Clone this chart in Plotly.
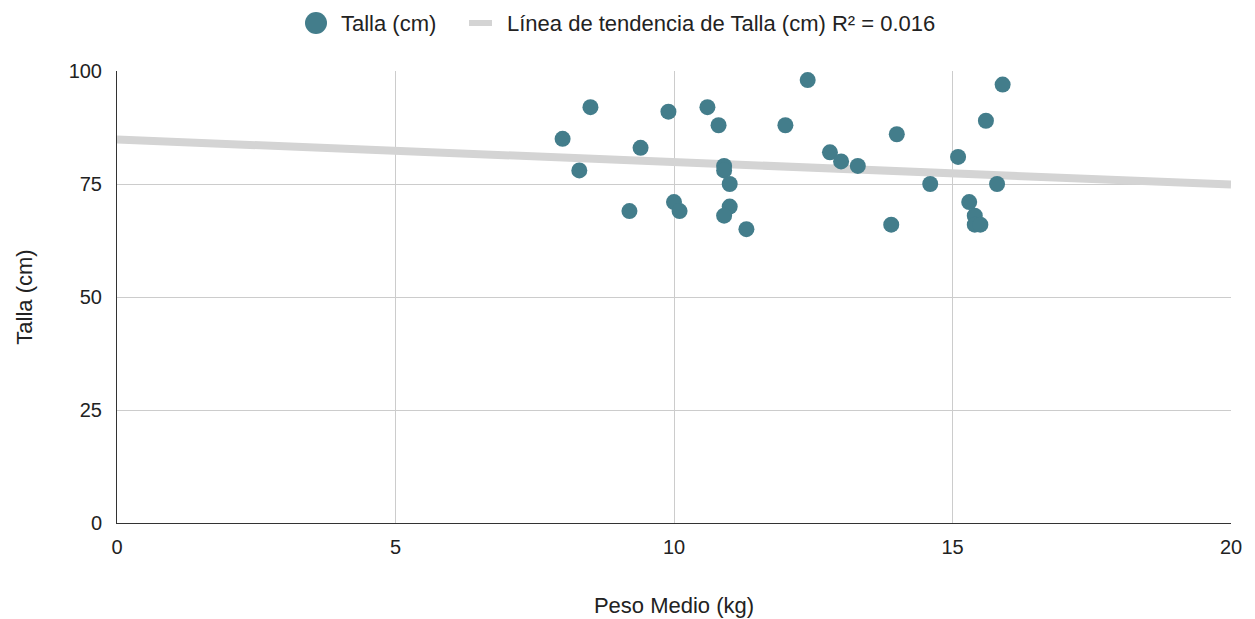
import numpy as np
import plotly.graph_objects as go

peso = [8.0, 8.3, 8.5, 9.2, 9.4, 9.9, 10.0, 10.1, 10.6, 10.8, 10.9, 10.9, 11.0, 11.0, 10.9, 11.3,
        12.0, 12.4, 12.8, 13.0, 13.3, 13.9, 14.0, 14.6, 15.1, 15.3, 15.4, 15.4, 15.5, 15.6, 15.8, 15.9]
talla = [85, 78, 92, 69, 83, 91, 71, 69, 92, 88, 79, 78, 75, 70, 68, 65,
         88, 98, 82, 80, 79, 66, 86, 75, 81, 71, 68, 66, 66, 89, 75, 97]

x_range = [0, 20]
y_range = [0, 100]
y_ticks = [0, 25, 50, 75, 100]
x_ticks = [0, 5, 10, 15, 20]

series_name = "Talla (cm)"
trend_name = "Línea de tendencia de Talla (cm) R² = 0.016"

marker_color = "#437d8b"
trend_color = "#d4d4d4"

slope, intercept = np.polyfit(peso, talla, 1)
trend_x = np.array(x_range, dtype=float)
trend_y = slope * trend_x + intercept

W, H = 1255, 619
M = dict(l=117, r=24, t=71, b=96)


def px_to_paper(px, py):
    pw = W - M["l"] - M["r"]
    ph = H - M["t"] - M["b"]
    return (px - M["l"]) / pw, (H - M["b"] - py) / ph


fig = go.Figure()
fig.add_trace(go.Scatter(
    x=trend_x, y=trend_y, mode="lines", name=trend_name,
    line=dict(color=trend_color, width=8), showlegend=False,
))
fig.add_trace(go.Scatter(
    x=peso, y=talla, mode="markers", name=series_name,
    marker=dict(color=marker_color, size=16, line=dict(width=0)), showlegend=False,
))

# Legend drawn at top (custom, to match marker size)
leg_y = 23
cx, cy = px_to_paper(316, leg_y)
lx0, _ = px_to_paper(469, leg_y)
lx1, _ = px_to_paper(492, leg_y)
tx1, _ = px_to_paper(339, leg_y)
tx2, _ = px_to_paper(505, leg_y)

fig.add_shape(type="circle", xref="paper", yref="paper", xsizemode="pixel", ysizemode="pixel",
              xanchor=cx, yanchor=cy, x0=-11, x1=11, y0=-11, y1=11,
              fillcolor=marker_color, line=dict(width=0))
fig.add_shape(type="line", xref="paper", yref="paper", x0=lx0, x1=lx1, y0=cy, y1=cy,
              line=dict(color=trend_color, width=6))
fig.add_annotation(text=series_name, xref="paper", yref="paper", x=tx1, y=cy,
                   xanchor="left", yanchor="middle", showarrow=False,
                   font=dict(size=22, color="#222222"))
fig.add_annotation(text=trend_name, xref="paper", yref="paper", x=tx2, y=cy,
                   xanchor="left", yanchor="middle", showarrow=False,
                   font=dict(size=22, color="#222222"))

font = "Liberation Sans, Arial, sans-serif"
fig.update_layout(
    width=W, height=H,
    margin=M,
    paper_bgcolor="white", plot_bgcolor="white",
    font=dict(family=font, size=20, color="#222222"),
    showlegend=False,
    xaxis=dict(range=x_range, tickvals=x_ticks, showgrid=True, gridcolor="#cccccc",
               showline=True, linecolor="#333333", linewidth=1, zeroline=False,
               ticks="", ticklabelstandoff=6, automargin=False,
               title=dict(text="Peso Medio (kg)", font=dict(size=22), standoff=40),
               tickfont=dict(size=20), fixedrange=True),
    yaxis=dict(range=y_range, tickvals=y_ticks, showgrid=True, gridcolor="#cccccc",
               showline=True, linecolor="#333333", linewidth=1, zeroline=False,
               ticks="", ticklabelstandoff=10, automargin=False,
               title=dict(text="Talla (cm)", font=dict(size=22), standoff=29),
               tickfont=dict(size=20), fixedrange=True),
)
fig.write_html("out.html", config={"displayModeBar": False},
               post_script="document.body.style.margin='0';")
